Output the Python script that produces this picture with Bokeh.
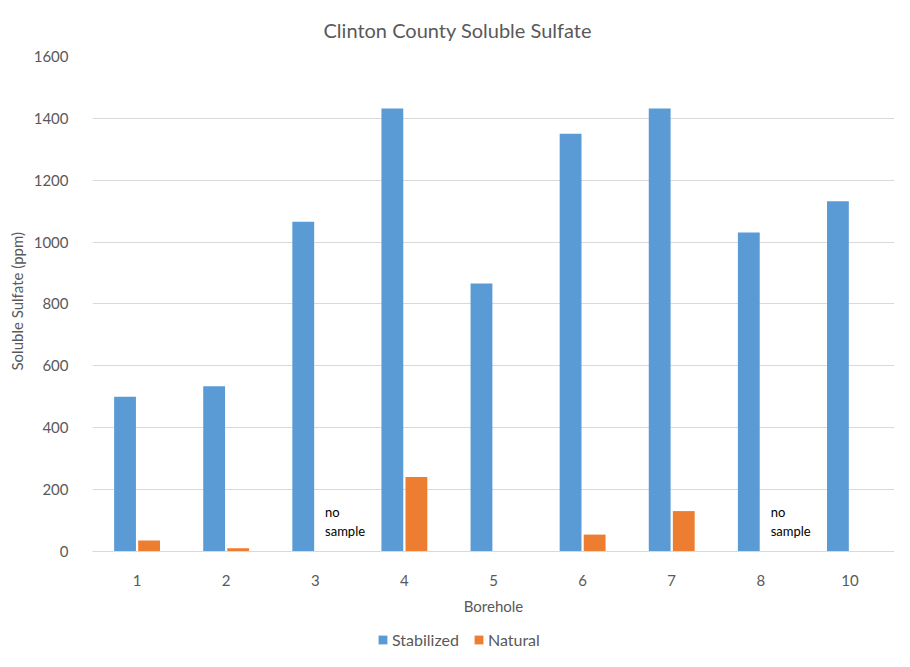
from bokeh.plotting import figure
from bokeh.models import (ColumnDataSource, Range1d, FixedTicker, Legend, LegendItem, Title)
from bokeh.transform import dodge
from bokeh.core.properties import value
from bokeh.embed import file_html
from bokeh.resources import INLINE

boreholes = ["1", "2", "3", "4", "5", "6", "7", "8", "10"]
stabilized = [500, 534, 1066, 1432, 866, 1350, 1432, 1031, 1132]
natural = [35, 10, 0, 240, 0, 54, 130, 0, 0]
note_boreholes = ["3", "8"]
note_text = ["no\nsample", "no\nsample"]
y_ticks = [0, 200, 400, 600, 800, 1000, 1200, 1400, 1600]

FONT = "Lato"
GREY = "#595959"

src = ColumnDataSource(dict(cat=boreholes, stab=stabilized, nat=natural))
note_src = ColumnDataSource(dict(cat=note_boreholes, txt=note_text, y=[0, 0]))

# extra room below zero holds the axis labels and legend inside the frame
p = figure(x_range=boreholes, y_range=Range1d(-324, 1600), width=894, height=651,
           output_backend="svg", toolbar_location=None,
           min_border_left=82, min_border_right=0, min_border_top=47, min_border_bottom=0)
p.outline_line_color = None

r1 = p.vbar(x=dodge("cat", -0.135, range=p.x_range), top="stab", width=0.245, source=src,
            fill_color="#5B9BD5", line_color=None)
r2 = p.vbar(x=dodge("cat", 0.135, range=p.x_range), top="nat", width=0.245, source=src,
            fill_color="#ED7D31", line_color=None)

p.text(x=dodge("cat", 0.11, range=p.x_range), y="y", text="txt", source=note_src,
       text_font=value(FONT), text_font_size="13px", text_color="#000000",
       text_baseline="bottom", text_align="left", y_offset=-12, text_line_height=1.2)

p.yaxis.ticker = FixedTicker(ticks=y_ticks)
p.yaxis.axis_line_color = None
p.yaxis.major_tick_line_color = None
p.yaxis.minor_tick_line_color = None
p.yaxis.major_label_text_font = FONT
p.yaxis.major_label_text_font_size = "15px"
p.yaxis.major_label_text_color = GREY
p.yaxis.major_label_standoff = 18

p.xaxis.fixed_location = 0
p.xaxis.axis_line_color = "#D9D9D9"
p.xaxis.major_tick_line_color = None
p.xaxis.minor_tick_line_color = None
p.xaxis.major_label_text_font = FONT
p.xaxis.major_label_text_font_size = "15px"
p.xaxis.major_label_text_color = GREY
p.xaxis.major_label_standoff = 18
p.xaxis.axis_label = "Borehole"
p.xaxis.axis_label_text_font = FONT
p.xaxis.axis_label_text_font_size = "15px"
p.xaxis.axis_label_text_font_style = "normal"
p.xaxis.axis_label_text_color = GREY
p.xaxis.axis_label_standoff = 7

p.xgrid.grid_line_color = None
p.ygrid.grid_line_color = "#D9D9D9"

p.title = Title(text="Clinton County Soluble Sulfate", align="left", offset=231,
                text_font=FONT, text_font_size="20px", text_font_style="normal",
                text_color=GREY, standoff=30)

p.add_layout(Title(text="Soluble Sulfate (ppm)", align="left", offset=281,
                   text_font=FONT, text_font_size="15px", text_font_style="normal",
                   text_color=GREY, standoff=10), "left")

legend = Legend(items=[LegendItem(label="Stabilized", renderers=[r1]),
                       LegendItem(label="Natural", renderers=[r2])],
                orientation="horizontal", location=(285, 2),
                label_text_font=FONT, label_text_font_size="16px", label_text_color=GREY,
                glyph_width=11, glyph_height=11, label_standoff=4, spacing=14,
                border_line_color=None, background_fill_alpha=0, padding=2, margin=0)
p.add_layout(legend, "center")

open("out.html", "w").write(file_html(p, INLINE))
